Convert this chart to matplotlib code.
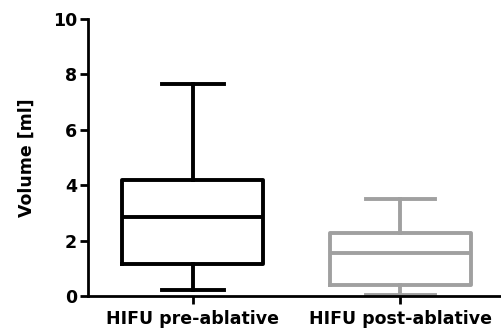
import matplotlib
matplotlib.use("Agg")
import matplotlib.pyplot as plt

categories = ["HIFU pre-ablative", "HIFU post-ablative"]
whisker_low = [0.2, 0.04]
q1 = [1.15, 0.4]
median = [2.85, 1.55]
q3 = [4.2, 2.27]
whisker_high = [7.65, 3.5]
colors = ["#000000", "#a0a0a0"]
yticks = [0, 2, 4, 6, 8, 10]

fig = plt.figure(figsize=(5.02, 3.28), dpi=100)
ax = fig.add_axes([88/502, 32/328, 1 - 88/502, (296-19)/328])

stats = []
for i, c in enumerate(categories):
    stats.append(dict(label=c, whislo=whisker_low[i], q1=q1[i], med=median[i],
                      q3=q3[i], whishi=whisker_high[i], fliers=[]))

for i, s in enumerate(stats):
    col = colors[i]
    lw = 2.8
    ax.bxp([s], positions=[i], widths=0.68, showfliers=False,
           boxprops=dict(color=col, linewidth=lw),
           medianprops=dict(color=col, linewidth=lw),
           whiskerprops=dict(color=col, linewidth=lw),
           capprops=dict(color=col, linewidth=lw),
           capwidths=0.3 if i == 0 else 0.33)

ax.set_xlim(-0.505, 1.49)
ax.set_ylim(0, 10)
ax.set_yticks(yticks)
ax.set_xticks([0, 1])
ax.set_xticklabels(categories, fontsize=12.5, fontweight="bold")
ax.set_yticklabels([str(t) for t in yticks], fontsize=12.5, fontweight="bold")
ax.set_ylabel("Volume [ml]", fontsize=12.5, fontweight="bold", labelpad=12)
for sp in ["top", "right"]:
    ax.spines[sp].set_visible(False)
for sp in ["left", "bottom"]:
    ax.spines[sp].set_linewidth(2.0)
ax.tick_params(axis="both", width=2.0, length=6, direction="out", pad=2)
ax.tick_params(axis="x", pad=4)
ax.spines["left"].set_bounds(0, 10)

fig.savefig("out.png", dpi=100)
